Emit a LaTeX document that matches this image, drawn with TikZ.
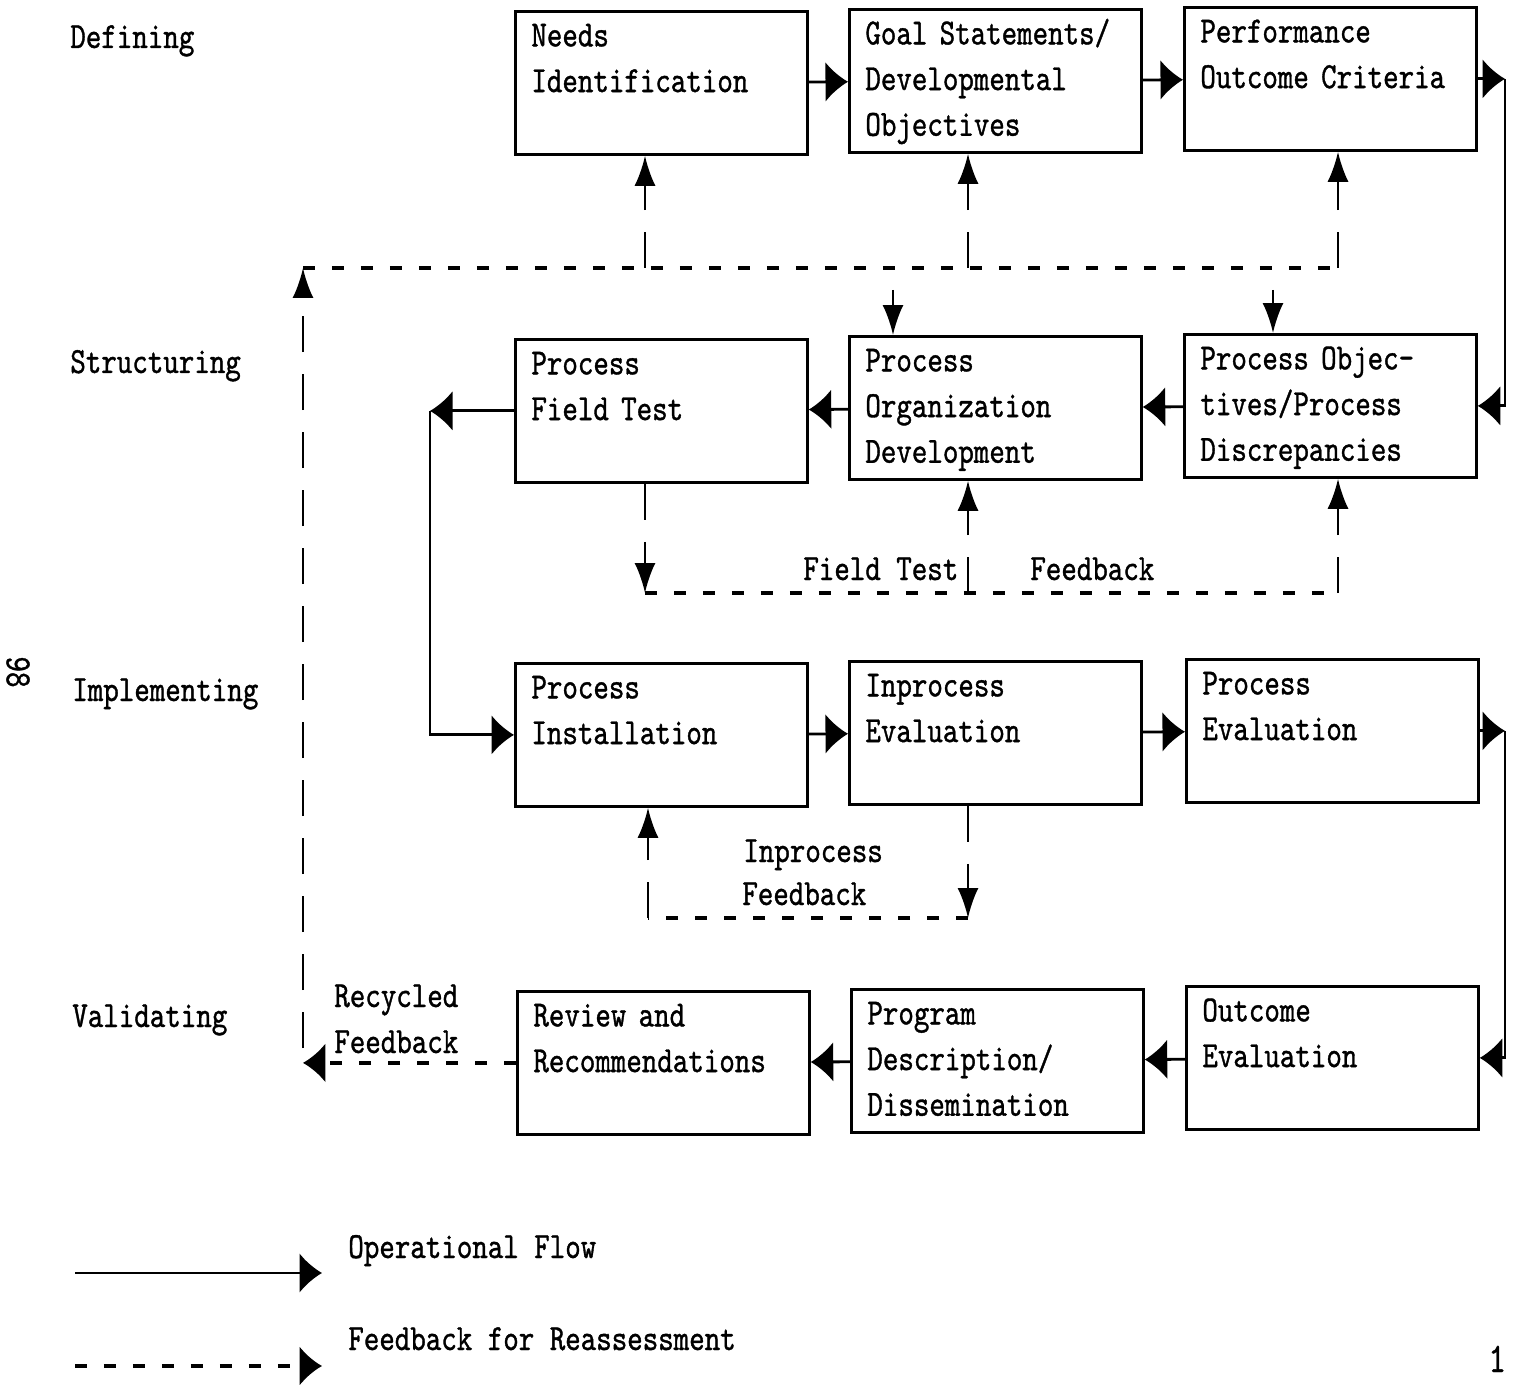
\documentclass[tikz,border=0pt]{standalone}
\usepackage{fontspec}
\setmonofont{lmmono10-regular.otf}[FakeStretch=0.8, FakeBold=1]
\usepackage{tikz}
\usetikzlibrary{positioning, arrows.meta, calc}
\newcommand{\boxfont}{\ttfamily\fontsize{21}{26}\selectfont}

\begin{document}
\begin{tikzpicture}[x=0.02cm, y=-0.02cm,
    stage/.style={rectangle, draw=black, line width=1.6pt, anchor=north west, align=left,
                  text width=5.2cm, inner xsep=0.32cm, inner ysep=0pt,
                  text height=0.7cm, text depth=2.16cm, font=\boxfont},
    tag/.style={anchor=base west, inner sep=0pt, font=\boxfont},
    flow/.style={line width=1.6pt, -{Latex[length=0.45cm, width=0.8cm]}},
    fbh/.style={line width=2pt, dash pattern=on 0.24cm off 0.34cm},
    fbv/.style={line width=1.4pt, dash pattern=on 0.72cm off 0.44cm},
    fbtip/.style={-{Latex[length=0.6cm, width=0.42cm]}}
]
    \useasboundingbox (0,0) rectangle (1518,1385);

    \node[stage] (needs)  at (514,10)  {Needs\\Identification};
    \node[stage] (goal)   at (848,8)   {Goal Statements/\\Developmental\\Objectives};
    \node[stage] (perf)   at (1183,6)  {Performance\\Outcome Criteria};
    \node[stage] (pft)    at (514,338) {Process\\Field Test};
    \node[stage] (pod)    at (848,335) {Process\\Organization\\Development};
    \node[stage] (pobj)   at (1183,333) {Process Objec-\\tives/Process\\Discrepancies};
    \node[stage] (inst)   at (514,662) {Process\\Installation};
    \node[stage] (inev)   at (848,660) {Inprocess\\Evaluation};
    \node[stage] (pev)    at (1185,658) {Process\\Evaluation};
    \node[stage] (review) at (516,990) {Review and\\Recommendations};
    \node[stage] (prog)   at (850,988) {Program\\Description/\\Dissemination};
    \node[stage] (oev)    at (1185,985) {Outcome\\Evaluation};

    \node[tag] (defining)     at (70,48)   {Defining};
    \node[tag] (structuring)  at (70,373)  {Structuring};
    \node[tag] (implementing) at (72,701)  {Implementing};
    \node[tag] (validating)   at (72,1027) {Validating};

    \node[tag] (ftest)    at (803,580)  {Field Test};
    \node[tag] (ftfb)     at (1030,580) {Feedback};
    \node[tag] (inproc)   at (743,862)  {Inprocess};
    \node[tag] (inprocfb) at (742,905)  {Feedback};
    \node[tag] (recyc)    at (334,1007) {Recycled};
    \node[tag] (recycfb)  at (334,1053) {Feedback};
    \node[tag] (opflow)   at (348,1258) {Operational Flow};
    \node[tag] (reass)    at (348,1350) {Feedback for Reassessment};
    \node[font=\boxfont, rotate=-90] (pageno) at (18,672) {98};
    \node[tag, font=\ttfamily\fontsize{24}{26}\selectfont] (corner) at (1488,1372) {1};

    \coordinate (rA) at (1505,0);
    \coordinate (lA) at (430,0);
    \coordinate (tl) at (303,268);
    \coordinate (tr) at (1338,268);
    \coordinate (lb) at (303,1048);
    \coordinate (fa) at (645,268);
    \coordinate (fg) at (968,268);
    \coordinate (fd) at (893,268);
    \coordinate (fe) at (1273,268);
    \coordinate (fb) at (645,593);
    \coordinate (fm) at (968,593);
    \coordinate (fr) at (1338,593);
    \coordinate (ia) at (968,918);
    \coordinate (ib) at (648,918);
    \coordinate (lg1) at (75,1273);
    \coordinate (lg1e) at (322,1273);
    \coordinate (lg2) at (75,1366);
    \coordinate (lg2e) at (322,1366);

    \draw[flow] (needs) -- (goal);
    \draw[flow] (goal) -- (perf);
    \draw[flow] (perf.east) -- (perf.east -| rA);
    \draw[flow] (perf.east -| rA) |- (pobj.east);
    \draw[flow] (pobj) -- (pod);
    \draw[flow] (pod) -- (pft);
    \draw[flow] (pft.west) -- (pft.west -| lA);
    \draw[flow] (pft.west -| lA) |- (inst.west);
    \draw[flow] (inst) -- (inev);
    \draw[flow] (inev) -- (pev);
    \draw[flow] (pev.east) -- (pev.east -| rA);
    \draw[flow] (pev.east -| rA) |- (oev.east);
    \draw[flow] (oev) -- (prog);
    \draw[flow] (prog) -- (review);

    \draw[fbh, -{Latex[length=0.45cm, width=0.8cm]}] (review.west) -- (review.west -| tl);
    \draw[fbv, fbtip] (lb) -- (tl);
    \draw[fbh] (tl) -- (tr);
    \draw[fbv, fbtip] (fa) -- (fa |- needs.south);
    \draw[fbv, fbtip] (fg) -- (fg |- goal.south);
    \draw[fbv, fbtip] (tr) -- (tr |- perf.south);
    \draw[fbv, fbtip, dash phase=0.72cm] (fd) -- (fd |- pod.north);
    \draw[fbv, fbtip, dash phase=0.72cm] (fe) -- (fe |- pobj.north);

    \draw[fbv, fbtip] (fb |- pft.south) -- (fb);
    \draw[fbh] (fb) -- (fr);
    \draw[fbv, fbtip] (fm) -- (fm |- pod.south);
    \draw[fbv, fbtip] (fr) -- (fr |- pobj.south);

    \draw[fbv, fbtip] (ia |- inev.south) -- (ia);
    \draw[fbh] (ia) -- (ib);
    \draw[fbv, fbtip] (ib) -- (ib |- inst.south);

    \draw[flow] (lg1) -- (lg1e);
    \draw[fbh, -{Latex[length=0.45cm, width=0.8cm]}] (lg2) -- (lg2e);
\end{tikzpicture}
\end{document}
